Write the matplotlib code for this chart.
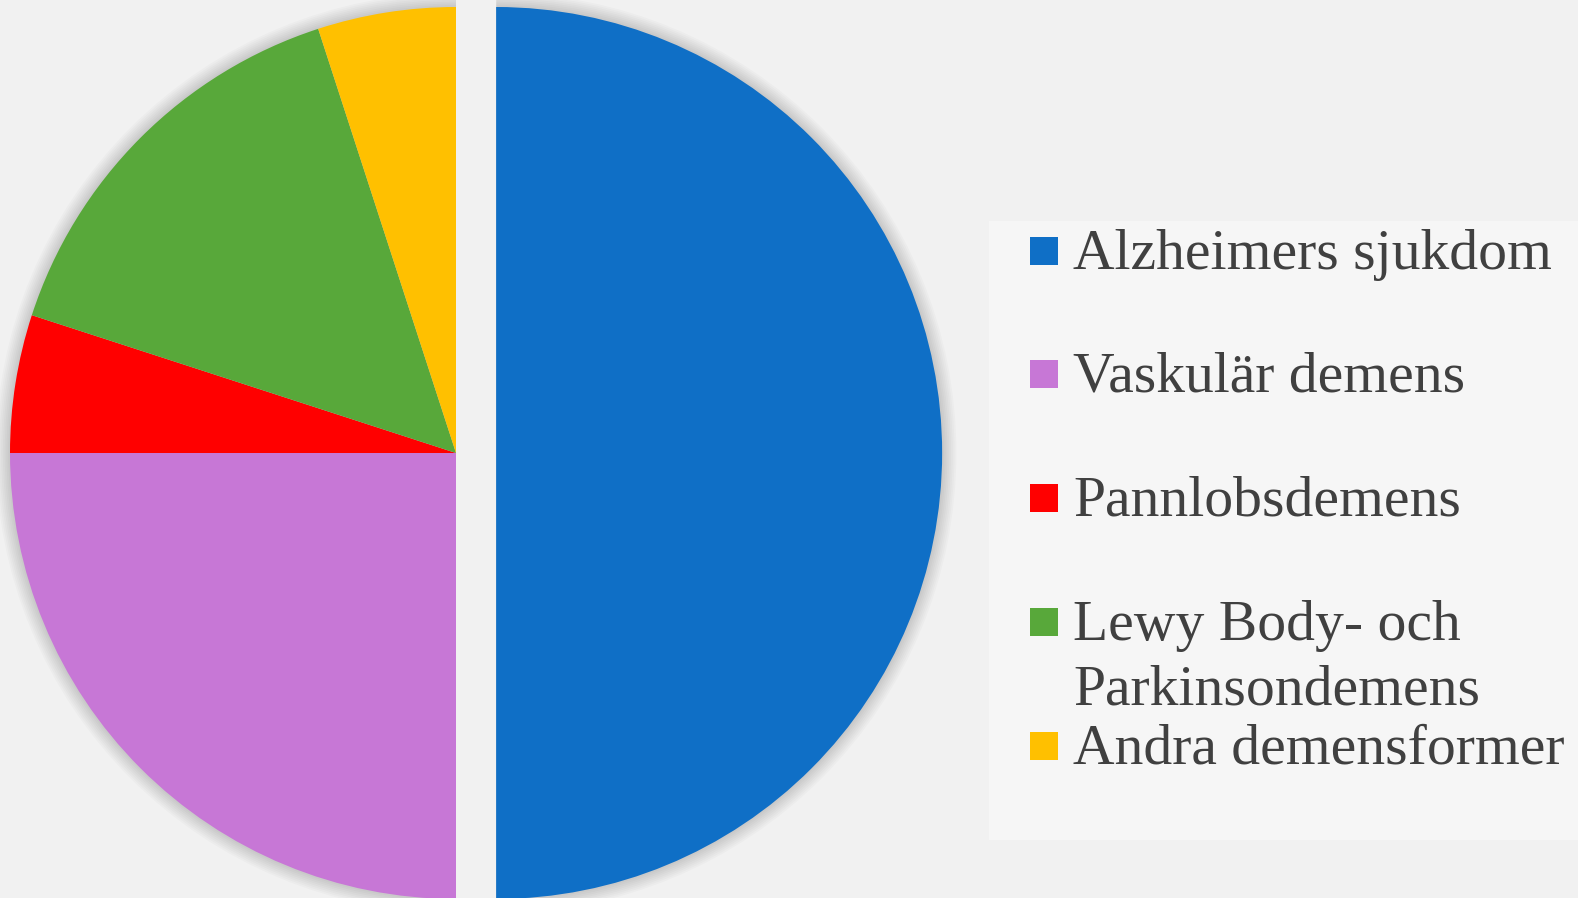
import matplotlib.pyplot as plt
from matplotlib.patches import Rectangle, Wedge

# data
labels = ["Alzheimers sjukdom", "Vaskulär demens", "Pannlobsdemens",
          "Lewy Body- och\nParkinsondemens", "Andra demensformer"]
shares = [50, 25, 5, 15, 5]
colors = ["#0F6FC6", "#C777D6", "#FF0000", "#58A83A", "#FFC000"]
explode = [0.09, 0, 0, 0, 0]

BG = "#f1f1f1"
LEGEND_BG = "#f6f6f6"
TEXT = "#404040"

W, H = 1578, 898
fig = plt.figure(figsize=(W / 100, H / 100), dpi=100, facecolor=BG)
ax = fig.add_axes([0, 0, 1, 1])
ax.set_facecolor(BG)

# pie centre at pixel (456, 453), radius ~446 px
R = 446.0
cx, cy = 456.0, H - 453.0

# soft shadow like the office glow
for k in range(8):
    r = 1.0 + 0.004 * (k + 1)
    ax.add_patch(Wedge((0, 0), r, 90, 270, color="black", alpha=0.018, lw=0))
    ax.add_patch(Wedge((explode[0], 0), r, -90, 90, color="black", alpha=0.018, lw=0))

wedges, _ = ax.pie(shares, colors=colors, explode=explode, startangle=90,
                   counterclock=False, radius=1.0, center=(0, 0),
                   wedgeprops=dict(linewidth=0), frame=True)
ax.set_xlim(-cx / R, (W - cx) / R)
ax.set_ylim(-cy / R, (H - cy) / R)
ax.set_aspect("equal")
ax.axis("off")

# legend box
fig.patches.append(Rectangle((989 / W, 1 - 840 / H), (W - 989) / W, (840 - 221) / H,
                             transform=fig.transFigure, color=LEGEND_BG, lw=0, zorder=0))

row_y = [251, 374, 498, 622, 746]
line_gap = 64.5
for lab, col, y in zip(labels, colors, row_y):
    fig.patches.append(Rectangle((1030 / W, 1 - (y + 14) / H), 28 / W, 28 / H,
                                 transform=fig.transFigure, color=col, lw=0))
    for i, line in enumerate(lab.split("\n")):
        fig.text(1073 / W, 1 - (y + 18 + i * line_gap) / H, line, fontsize=41.5,
                 family="Liberation Serif", color=TEXT, va="baseline", ha="left")

fig.savefig("out.png", dpi=100, facecolor=BG)
